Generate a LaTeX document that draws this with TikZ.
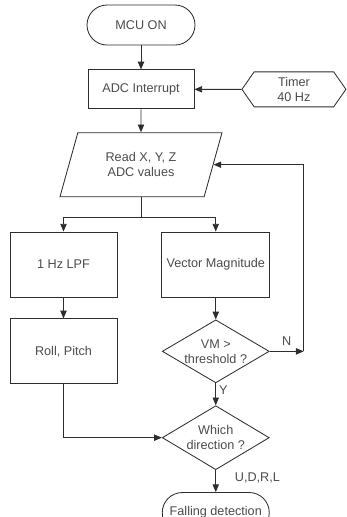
\documentclass[tikz,border=0pt]{standalone}
\usepackage{xcolor}
\usepackage{fontspec}
\setmainfont{Liberation Sans}
\usepackage{tikz}
\usetikzlibrary{shapes.geometric, shapes.symbols, arrows.meta, positioning, calc}
\definecolor{myline}{RGB}{45,45,45}
\definecolor{mytext}{RGB}{75,75,75}
\tikzset{
  block/.style={rectangle, draw=myline, text=mytext,
    minimum width=2.675cm, minimum height=1.625cm,
    align=center, line width=0.6pt},
  termblock/.style={rectangle, draw=myline, text=mytext,
    minimum width=2.7cm, minimum height=1.0cm,
    rounded corners=0.5cm, align=center, line width=0.6pt},
  decision/.style={diamond, draw=myline, text=mytext, aspect=1.7,
    minimum width=2.675cm, minimum height=1.575cm,
    inner sep=0pt, align=center, line width=0.6pt},
  arrow/.style={-{Triangle[length=5.5pt,width=4.5pt]}, line width=0.6pt, color=myline},
  line/.style={line width=0.6pt, color=myline}
}

\begin{document}
\begin{tikzpicture}[
  font=\fontsize{9}{10.6}\selectfont,
  iobox/.style={trapezium, trapezium left angle=62, trapezium right angle=118,
    trapezium stretches body, draw=myline, text=mytext,
    minimum width=4.05cm, minimum height=1.6cm, align=center, line width=0.6pt},
  clockbox/.style={signal, signal to=west and east, signal pointer angle=110,
    draw=myline, text=mytext, minimum width=2.6cm, minimum height=0.875cm,
    align=center, line width=0.6pt}
]
  \useasboundingbox (0,0) rectangle (8.65,-12.925);

  \node[termblock] (mcu) at (3.525,-0.625) {MCU ON};
  \node[block, minimum width=2.65cm, minimum height=0.975cm, below=0.6cm of mcu] (adc) {ADC Interrupt};
  \node[clockbox, right=1.175cm of adc] (timer) {Timer\\40 Hz};
  \node[iobox, below=0.575cm of adc] (read) {Read X, Y, Z\\ADC values};
  \node[block] (lpf) at (1.5875,-6.6125) {1 Hz LPF};
  \node[block, right=1.1cm of lpf] (vm) {Vector Magnitude};
  \node[block, below=0.525cm of lpf] (roll) {Roll, Pitch};
  \node[decision, below=0.55cm of vm] (thr) {VM \textgreater\\threshold ?};
  \node[decision, minimum height=1.6cm, below=0.55cm of thr] (dir) {Which\\direction ?};
  \node[termblock, minimum width=2.675cm, below=0.55cm of dir] (fall) {Falling detection};

  \draw[arrow] (mcu) -- (adc);
  \draw[arrow] (timer) -- (adc);
  \draw[arrow] (adc) -- (read);
  \draw[line] (read.south) -- ++(0,-0.5) coordinate (split);
  \draw[arrow] (split) -| (lpf.north);
  \draw[arrow] (split) -| (vm.north);
  \draw[arrow] (lpf) -- (roll);
  \draw[arrow] (vm) -- (thr);
  \draw[arrow] (thr) -- (dir)
    node[pos=0.3, right, inner sep=2pt, text=mytext] {Y};
  \draw[arrow] (thr.east) -- ++(0.85,0) coordinate (loop)
    node[pos=0.5, above, inner sep=4pt, text=mytext] {N};
  \draw[arrow] (loop) |- (read.east);
  \draw[arrow] (roll.south) |- (dir.west);
  \draw[arrow] (dir) -- (fall)
    node[pos=0.35, right=10pt, text=mytext] {U,D,R,L};
\end{tikzpicture}
\end{document}
